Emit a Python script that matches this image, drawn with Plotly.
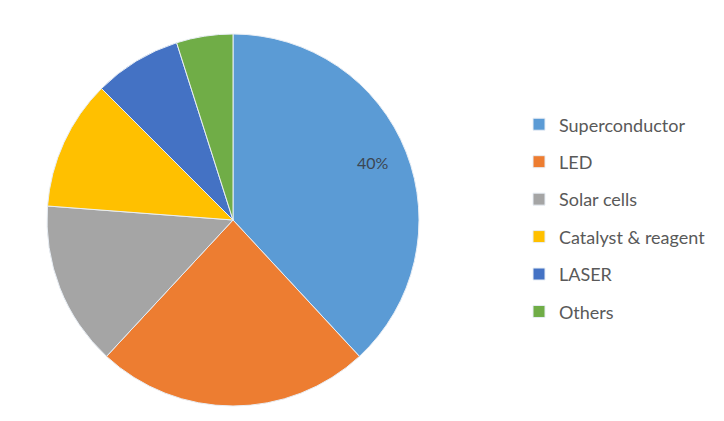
import plotly.graph_objects as go

categories = ["Superconductor", "LED", "Solar cells", "Catalyst & reagent", "LASER", "Others"]
shares = [38.1, 23.8, 14.3, 11.3, 7.6, 4.9]
label_text = "40%"
colors = ["#5B9BD5", "#ED7D31", "#A5A5A5", "#FFC000", "#4472C4", "#70AD47"]

W, H = 724, 421
# page body has an 8px margin; coordinates below are figure pixels
cx, cy, r = 225, 212, 186

fig = go.Figure(go.Pie(
    labels=["<span style='font-size:18px;baseline-shift:3px'>" + c + "</span>" for c in categories],
    values=shares,
    textinfo="none",
    sort=False,
    direction="clockwise",
    rotation=0,
    marker=dict(colors=colors, line=dict(color="#e8eef5", width=1)),
    hoverinfo="skip",
    domain=dict(x=[(cx - r) / W, (cx + r) / W], y=[(H - cy - r) / H, (H - cy + r) / H]),
))

fig.add_annotation(
    x=365 / W, y=1 - 154 / H, xref="paper", yref="paper",
    text=label_text, showarrow=False,
    font=dict(family="Lato", size=16, color="#3b4652"),
)

fig.update_layout(
    width=W, height=H,
    margin=dict(l=0, r=0, t=0, b=0),
    paper_bgcolor="white",
    showlegend=True,
    legend=dict(
        x=511 / W, xanchor="left",
        y=1 - 92.5 / H, yanchor="top",
        valign="middle",
        font=dict(family="Lato", size=26.5, color="#595959"),
        bgcolor="rgba(0,0,0,0)",
    ),
)

fig.write_html("out.html")
